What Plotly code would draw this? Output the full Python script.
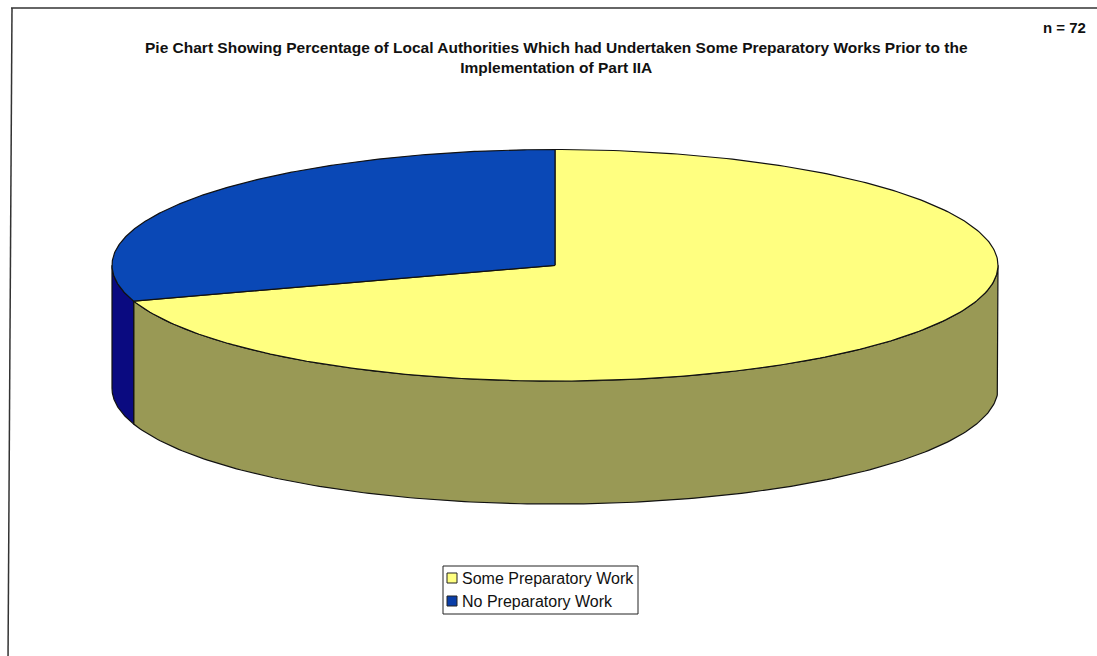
import numpy as np
import plotly.graph_objects as go

# Survey responses (percent of authorities), n = 72
categories = ["Some Preparatory Work", "No Preparatory Work"]
percentages = [70, 30]
n_responses = 72

top_colors = ["#ffff80", "#0a48b6"]
side_colors = ["#999955", "#0a0a80"]
legend_colors = ["#ffff80", "#0a3ea8"]

title_text = ("Pie Chart Showing Percentage of Local Authorities Which had Undertaken "
              "Some Preparatory Works Prior to the<br>Implementation of Part IIA")

W, H = 1097, 656
# pie geometry in screen pixels (axes map 1:1 onto the page)
CX, CY = 555.0, 265.3
RX, RY = 443.0, 115.8
DEPTH = 123.0
FONT = "Liberation Sans, Arial, sans-serif"


def ellipse_pts(t_deg, dy=0.0):
    t = np.radians(t_deg)
    return CX + RX * np.cos(t), CY - RY * np.sin(t) + dy


fig = go.Figure()

# slice angles: first slice starts at 12 o'clock and runs clockwise
total = float(sum(percentages))
bounds = []
start = 90.0
for v in percentages:
    end = start - v / total * 360.0
    bounds.append((start, end))
    start = end

# outer walls: only the front half (180..360 deg) faces the viewer
for (a0, a1), col in zip(bounds, side_colors):
    hi_s, lo_s = a0, a1
    for k in (-1, 0, 1):
        f_lo, f_hi = -180.0 + 360 * k, 0.0 + 360 * k
        lo, hi = max(lo_s, f_lo), min(hi_s, f_hi)
        if hi - lo <= 1e-6:
            continue
        ts = np.linspace(lo, hi, 200)
        xt, yt = ellipse_pts(ts)
        xb, yb = ellipse_pts(ts[::-1], DEPTH)
        xs = np.concatenate([xt, xb, xt[:1]])
        ys = np.concatenate([yt, yb, yt[:1]])
        fig.add_trace(go.Scatter(x=xs, y=ys, mode="lines", fill="toself",
                                 fillcolor=col, line=dict(color="#111111", width=1.2),
                                 hoverinfo="skip", showlegend=False))

# top faces
for (a0, a1), col, name, v in zip(bounds, top_colors, categories, percentages):
    ts = np.linspace(a0, a1, 300)
    xa, ya = ellipse_pts(ts)
    xs = np.concatenate([[CX], xa, [CX]])
    ys = np.concatenate([[CY], ya, [CY]])
    fig.add_trace(go.Scatter(x=xs, y=ys, mode="lines", fill="toself",
                             fillcolor=col, line=dict(color="#111111", width=1.2),
                             name=name, hovertemplate=f"{name}: {v}%<extra></extra>",
                             showlegend=False))

shapes = []
annotations = []

# chart frame
shapes.append(dict(type="line", xref="x", yref="y", x0=11, y0=8, x1=W + 5, y1=8,
                   line=dict(color="#333333", width=1.5)))
shapes.append(dict(type="line", xref="x", yref="y", x0=12, y0=8, x1=8, y1=H + 5,
                   line=dict(color="#333333", width=1.5)))

# legend box
LX0, LY0, LX1, LY1 = 443, 566, 638, 614
shapes.append(dict(type="rect", xref="x", yref="y", x0=LX0, y0=LY0, x1=LX1, y1=LY1,
                   line=dict(color="#222222", width=1), fillcolor="white"))
row_y = [578, 601]
for name, col, yy in zip(categories, legend_colors, row_y):
    shapes.append(dict(type="rect", xref="x", yref="y", x0=447, y0=yy - 5, x1=457, y1=yy + 5,
                       line=dict(color="#222222", width=1), fillcolor=col))
    annotations.append(dict(x=460, y=yy, xref="x", yref="y", text=name, showarrow=False,
                            xanchor="left", yanchor="middle",
                            font=dict(family=FONT, size=16, color="#111111")))

annotations.append(dict(x=556, y=57, xref="x", yref="y", text=f"<b>{title_text}</b>",
                        showarrow=False, xanchor="center", yanchor="middle",
                        font=dict(family=FONT, size=15.5, color="#111111")))
annotations.append(dict(x=1088, y=27, xref="x", yref="y", text=f"<b>n = {n_responses}</b>",
                        showarrow=False, xanchor="right", yanchor="middle",
                        font=dict(family=FONT, size=15, color="#111111")))

fig.update_layout(
    width=W, height=H,
    margin=dict(l=0, r=0, t=0, b=0),
    paper_bgcolor="white", plot_bgcolor="white",
    xaxis=dict(range=[0, W], visible=False, fixedrange=True),
    yaxis=dict(range=[H, 0], visible=False, fixedrange=True),
    shapes=shapes, annotations=annotations,
    showlegend=False,
)

fig.write_html("out.html")
